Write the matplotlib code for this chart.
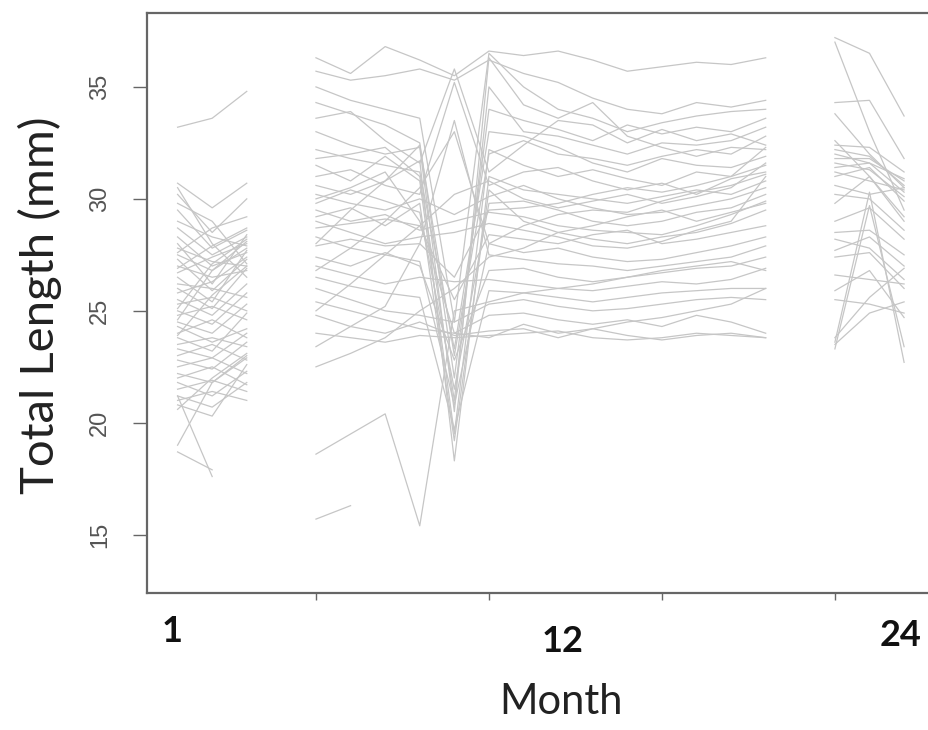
import numpy as np
import matplotlib
matplotlib.use("Agg")
import matplotlib.pyplot as plt

nan = np.nan

# month index of each sampling occasion, three sampling blocks
months_a = [1, 2, 3]
months_b = [5, 6, 7, 8, 9, 10, 11, 12, 13, 14, 15, 16, 17, 18]
months_c = [20, 21, 22]

# total length (mm) per individual, block 1
lengths_a = [
    [33.2, 33.6, 34.8], [30.7, 29.6, 30.7], [30.5, 28.0, 26.5], [30.2, 28.5, 30.0],
    [29.5, 27.8, 28.6], [29.0, 28.3, 27.9], [28.7, 27.5, 28.3], [28.3, 27.0, 27.6],
    [28.0, 26.2, 28.4], [27.8, 27.2, 27.0], [27.5, 26.8, 28.1], [27.3, 25.9, 27.3],
    [27.0, 26.5, 26.8], [26.7, 27.4, 28.0], [26.5, 25.4, 27.7], [26.2, 26.0, 25.6],
    [26.0, 25.1, 26.9], [25.8, 26.3, 27.4], [25.5, 24.8, 26.2], [25.3, 25.6, 25.0],
    [25.0, 24.4, 25.8], [24.8, 25.2, 24.6], [24.5, 24.0, 25.3], [24.3, 23.6, 24.2],
    [24.0, 24.6, 23.8], [23.8, 23.2, 24.9], [23.5, 23.8, 23.4], [23.3, 22.9, 24.0],
    [23.0, 23.5, 22.8], [22.8, 22.4, 23.6], [22.5, 22.9, 22.2], [22.2, 21.8, 22.9],
    [22.0, 22.5, 21.7], [21.8, 21.2, 22.3], [21.5, 21.9, 21.4], [21.2, 20.7, 21.8],
    [21.0, 21.4, 21.0], [20.8, 20.3, 22.6], [20.6, 22.0, 23.1], [21.2, 17.6, nan],
    [19.0, 21.8, 23.0], [18.7, 17.9, nan], [29.8, 29.0, 27.1], [27.6, 28.7, 29.2],
    [24.6, 26.8, 27.8], [23.9, 25.7, 27.0], [26.9, 27.9, 28.7], [25.1, 27.1, 28.2],
]

# block 2
lengths_b = [
    [36.3, 35.6, 36.8, 36.2, 35.5, 36.6, 36.4, 36.6, 36.2, 35.7, 35.9, 36.1, 36.0, 36.3],
    [35.7, 35.3, 35.5, 35.8, 35.3, 36.2, 35.6, 35.2, 34.5, 34.0, 33.8, 34.3, 34.1, 34.4],
    [35.0, 34.4, 34.0, 33.6, 24.5, 36.5, 35.0, 34.0, 33.6, 33.0, 33.4, 33.7, 33.9, 34.0],
    [34.3, 33.8, 33.3, 32.5, 22.0, 34.0, 33.5, 33.1, 32.6, 33.3, 32.9, 33.2, 33.0, 33.6],
    [33.6, 33.9, 32.6, 31.6, 35.8, 31.2, 32.4, 33.5, 33.3, 32.5, 33.1, 32.6, 32.9, 32.4],
    [33.0, 32.4, 32.0, 32.3, 20.5, 36.3, 34.2, 33.6, 34.3, 32.8, 32.3, 31.9, 32.3, 32.2],
    [32.2, 31.8, 31.5, 31.2, 23.3, 33.0, 32.8, 32.3, 31.6, 31.2, 31.8, 31.5, 31.4, 31.9],
    [31.5, 30.8, 31.9, 30.8, 19.5, 32.2, 31.5, 31.0, 31.3, 30.9, 30.6, 31.2, 31.0, 31.5],
    [31.0, 31.3, 30.6, 30.2, 35.2, 30.6, 31.2, 31.4, 30.8, 30.4, 30.7, 30.2, 30.9, 31.2],
    [30.6, 30.2, 30.8, 31.7, 18.3, 31.0, 30.4, 30.2, 30.0, 29.8, 30.1, 30.4, 30.2, 30.8],
    [30.2, 29.8, 29.5, 30.0, 29.3, 30.1, 30.6, 30.0, 29.6, 29.3, 29.4, 29.7, 30.0, 30.5],
    [29.8, 30.4, 29.9, 29.4, 21.5, 29.8, 29.9, 29.5, 29.0, 28.8, 29.0, 29.4, 29.6, 30.2],
    [29.5, 29.0, 29.3, 28.6, 29.0, 29.4, 29.2, 28.8, 28.6, 28.5, 28.4, 28.8, 29.3, 29.9],
    [29.2, 29.6, 28.8, 29.8, 19.2, 30.4, 29.0, 28.5, 28.2, 28.0, 28.3, 28.5, 28.9, 29.5],
    [29.0, 28.5, 28.0, 28.3, 28.5, 28.9, 28.6, 28.3, 27.9, 27.8, 28.1, 28.6, 29.0, 31.0],
    [28.7, 28.9, 29.1, 28.8, 25.5, 28.4, 28.2, 28.0, 28.4, 28.6, 28.0, 28.2, 28.5, 28.8],
    [28.3, 27.8, 27.5, 27.2, 20.8, 28.0, 27.6, 27.8, 27.4, 27.2, 27.3, 27.6, 27.9, 28.3],
    [27.9, 28.2, 27.9, 28.0, 33.5, 27.5, 27.3, 27.1, 27.0, 26.8, 27.0, 27.2, 27.4, 27.9],
    [27.4, 27.0, 27.6, 27.0, 22.8, 26.8, 26.9, 26.5, 26.3, 26.5, 26.7, 26.9, 27.0, 27.4],
    [27.0, 26.6, 26.2, 26.5, 26.3, 26.4, 26.2, 26.0, 25.9, 26.1, 26.3, 26.2, 26.4, 26.9],
    [26.5, 26.1, 25.8, 25.6, 19.7, 25.9, 25.8, 25.6, 25.4, 25.6, 25.8, 25.9, 26.0, 26.0],
    [26.0, 25.5, 25.0, 24.8, 24.5, 25.3, 25.5, 25.2, 25.0, 25.1, 25.3, 25.5, 25.6, 25.5],
    [25.4, 25.0, 24.6, 24.2, 24.0, 24.8, 24.9, 24.6, 24.4, 24.6, 24.3, 24.8, 24.5, 24.0],
    [24.8, 24.3, 24.0, 24.5, 23.9, 24.1, 24.2, 23.8, 24.2, 23.9, 23.7, 23.9, 24.0, 23.8],
    [24.0, 23.8, 23.6, 23.9, 23.8, 23.9, 24.0, 24.1, 23.8, 23.7, 23.8, 24.0, 23.9, 23.8],
    [23.4, 24.3, 25.2, 28.0, 26.5, 29.5, 29.6, 29.8, 30.2, 30.5, 30.3, 30.6, 31.0, 32.3],
    [22.5, 23.1, 23.8, 25.0, 26.0, 27.4, 27.8, 28.5, 28.8, 29.2, 29.5, 29.0, 29.4, 29.8],
    [18.6, 19.5, 20.4, 15.4, 25.0, 25.4, 25.8, 26.0, 26.2, 26.5, 26.8, 27.0, 27.2, 26.8],
    [15.7, 16.3, nan, nan, nan, nan, nan, nan, nan, nan, nan, nan, nan, nan],
    [28.0, 29.5, 30.8, 32.4, 23.0, 32.0, 32.6, 32.0, 31.8, 31.5, 31.9, 32.2, 32.0, 32.8],
    [31.8, 32.0, 32.3, 31.0, 21.0, 35.0, 33.0, 32.8, 32.4, 32.0, 32.5, 32.4, 32.6, 33.2],
    [26.8, 27.8, 29.0, 30.5, 33.0, 28.0, 28.8, 29.3, 29.5, 29.4, 29.9, 30.3, 30.6, 31.1],
    [25.0, 26.2, 27.5, 28.8, 30.2, 30.8, 30.0, 29.6, 29.9, 30.2, 29.8, 30.1, 30.5, 31.6],
    [30.0, 30.5, 31.2, 29.0, 24.0, 23.8, 24.4, 24.0, 24.2, 24.5, 24.7, 25.0, 25.3, 26.0],
]

# block 3
lengths_c = [
    [37.2, 36.5, 33.7], [37.0, 33.0, 29.5], [34.3, 34.4, 31.8], [33.8, 32.0, 30.5],
    [32.4, 32.3, 31.2], [32.2, 31.9, 30.6], [32.0, 31.6, 30.3], [31.8, 31.8, 30.8],
    [31.6, 31.3, 30.1], [31.4, 31.6, 30.9], [31.2, 30.8, 30.4], [31.0, 31.4, 29.9],
    [30.6, 30.2, 30.5], [29.8, 31.0, 29.0], [29.0, 29.6, 28.2], [28.5, 28.6, 27.5],
    [28.2, 27.8, 26.4], [27.7, 28.3, 27.0], [27.4, 27.6, 26.0], [26.6, 26.4, 26.2],
    [25.9, 26.8, 24.7], [25.5, 25.3, 24.9], [23.5, 24.9, 25.4], [23.3, 29.7, 23.4],
    [23.6, 30.3, 22.7], [23.8, 25.6, 26.9], [30.2, 30.0, 28.6], [32.6, 31.0, 29.2],
]

W, H = 929, 730
fig = plt.figure(figsize=(W / 100, H / 100), dpi=100)
ax = fig.add_axes([147 / W, (H - 593) / H, (W - 147) / W, (593 - 13) / H])

line_col = "#c6c6c6"
for months, block in [(months_a, lengths_a), (months_b, lengths_b), (months_c, lengths_c)]:
    for row in block:
        ax.plot(months, row, color=line_col, lw=0.9)

ax.set_xlim(0.116, 22.72)
ax.set_ylim(12.4, 38.3)

ax.spines["right"].set_visible(False)
for s in ["left", "top", "bottom"]:
    ax.spines[s].set_color("#666666")
    ax.spines[s].set_linewidth(1.6)

ax.set_xticks([5, 10, 15, 20])
ax.set_xticklabels([])
ax.set_yticks([15, 20, 25, 30, 35])
ax.tick_params(axis="x", length=5, width=1, color="#666666")
ax.tick_params(axis="y", length=10, width=1, color="#666666", pad=16,
               labelsize=17, labelcolor="#555555")
for lab in ax.get_yticklabels():
    lab.set_rotation(90)
    lab.set_va("center")
    lab.set_family("Liberation Sans")

# month markers under the axis
for txt, px, py in [("1", 172, 632), ("12", 563, 641), ("24", 901, 636)]:
    fig.text(px / W, 1 - py / H, txt, ha="center", va="center",
             fontsize=26, fontweight="bold", family="Lato", color="#111111")

fig.text(561 / W, 1 - 702 / H, "Month", ha="center", va="center",
         fontsize=30, family="Lato", color="#222222")
fig.text(40 / W, 1 - 305 / H, "Total Length (mm)", ha="center", va="center",
         rotation=90, fontsize=34, family="Lato", color="#222222")

fig.savefig("out.png", dpi=100)
